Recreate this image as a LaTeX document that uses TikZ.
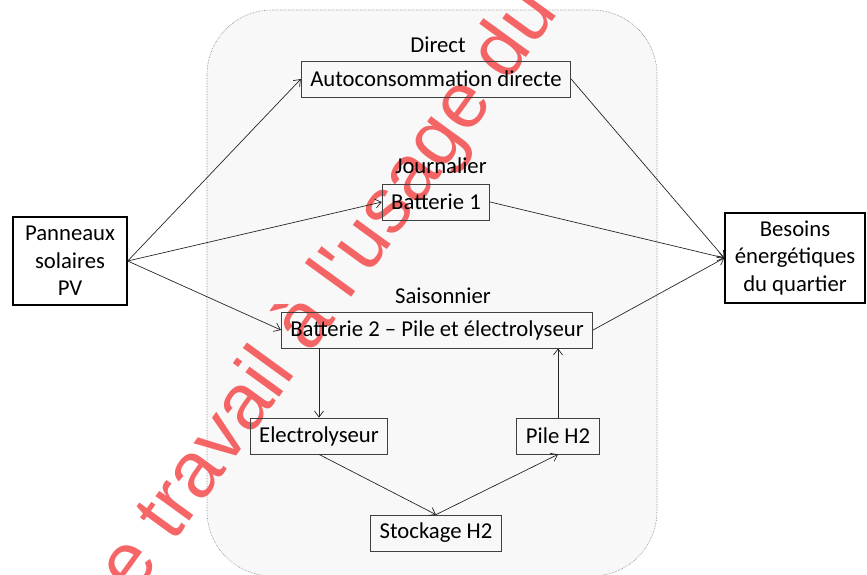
\documentclass[tikz,border=0pt]{standalone}
\usepackage{fontspec}
\setmainfont{Carlito}
\newfontfamily\wmfont{Liberation Sans}
\usetikzlibrary{arrows.meta}

\definecolor{wmred}{RGB}{245,85,85}
\definecolor{zonefill}{RGB}{248,248,248}

\tikzset{
  box/.style={draw=black!75, line width=0.8pt, inner xsep=9pt, minimum height=36pt},
  bigbox/.style={draw, line width=1.4pt, align=center, inner sep=0pt},
  fleche/.style={-{Straight Barb[length=6pt,width=9pt]}, line width=0.7pt, black!85}
}

\begin{document}
\begin{tikzpicture}[x=1pt, y=-1pt, font=\fontsize{22.7}{27.5}\selectfont]
	\useasboundingbox (0,0) rectangle (867,574);
	
	% zone
	\path [fill=zonefill, draw=gray, densely dotted, line width=0.6pt, rounded corners=65pt]
	(207,10) rectangle (657,576);
	
	% filigrane
	\begin{scope}
		\clip (0,0) rectangle (867,574);
		\node [wmred, opacity=0.9, rotate=54, font=\wmfont\fontsize{79}{79}\selectfont] (wm) at (330,292) {e travail à l'usage du};
	\end{scope}
	
	\node [bigbox, minimum width=114pt, minimum height=88pt] (pv) at (70,261) {Panneaux\\solaires\\PV};
	\node [bigbox, minimum width=140pt, minimum height=90pt] (besoins) at (795,258) {Besoins\\énergétiques\\du quartier};
	
	\node (direct) at (438,45) {Direct};
	\node [box] (auto) at (436,79) {Autoconsommation directe};
	\node (journ) at (441,166) {Journalier};
	\node [box] (bat1) at (436,202) {Batterie 1};
	\node (saison) at (443,296) {Saisonnier};
	\node [box] (bat2) at (437,330) {Batterie 2 -- Pile et électrolyseur};
	\node [box] (elec) at (319,436) {Electrolyseur};
	\node [box] (pile) at (558,436) {Pile H2};
	\node [box] (stock) at (436,533) {Stockage H2};
	
	\path [fleche]
	(pv.east) edge (auto.west)
	(pv.east) edge (bat1.west)
	(pv.east) edge (bat2.west)
	(auto.east) edge (besoins.west)
	(bat1.east) edge (besoins.west)
	(bat2.east) edge (besoins.west)
	(elec.north |- bat2.south) edge (elec.north)
	(pile.north) edge (pile.north |- bat2.south)
	(elec.south) edge (stock.north)
	(stock.north) edge (pile.south);
\end{tikzpicture}
\end{document}
